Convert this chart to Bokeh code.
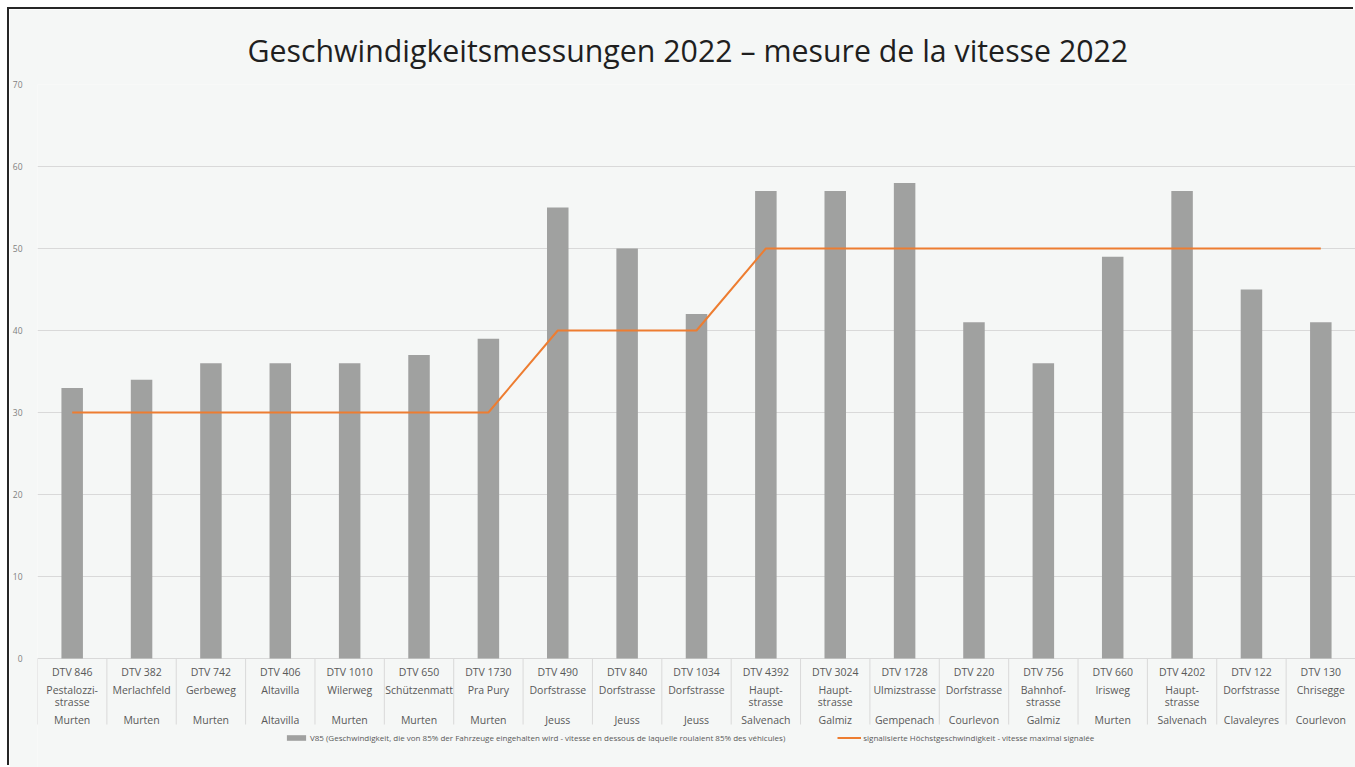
from bokeh.plotting import figure
from bokeh.models import FactorRange, Range1d, FixedTicker, Legend, LegendItem, ColumnDataSource
from bokeh.embed import file_html
from bokeh.resources import INLINE
from bokeh.core.properties import value

# ---------------- data ----------------
dtv_labels = ["DTV 846", "DTV 382", "DTV 742", "DTV 406", "DTV 1010", "DTV 650", "DTV 1730",
              "DTV 490", "DTV 840", "DTV 1034", "DTV 4392", "DTV 3024", "DTV 1728", "DTV 220",
              "DTV 756", "DTV 660", "DTV 4202", "DTV 122", "DTV 130"]
streets = ["Pestalozzi-\nstrasse", "Merlachfeld", "Gerbeweg", "Altavilla", "Wilerweg", "Schützenmatt",
           "Pra Pury", "Dorfstrasse", "Dorfstrasse", "Dorfstrasse", "Haupt-\nstrasse", "Haupt-\nstrasse",
           "Ulmizstrasse", "Dorfstrasse", "Bahnhof-\nstrasse", "Irisweg", "Haupt-\nstrasse",
           "Dorfstrasse", "Chrisegge"]
towns = ["Murten", "Murten", "Murten", "Altavilla", "Murten", "Murten", "Murten", "Jeuss", "Jeuss",
         "Jeuss", "Salvenach", "Galmiz", "Gempenach", "Courlevon", "Galmiz", "Murten", "Salvenach",
         "Clavaleyres", "Courlevon"]
v85 = [33, 34, 36, 36, 36, 37, 39, 55, 50, 42, 57, 57, 58, 41, 36, 49, 57, 45, 41]
speed_limit = [30, 30, 30, 30, 30, 30, 30, 40, 40, 40, 50, 50, 50, 50, 50, 50, 50, 50, 50]
y_ticks = [0, 10, 20, 30, 40, 50, 60, 70]

title_text = "Geschwindigkeitsmessungen 2022 \u2013 mesure de la vitesse 2022"
v85_label = ("V85 (Geschwindigkeit, die von 85% der Fahrzeuge eingehalten wird - "
             "vitesse en dessous de laquelle roulaient 85% des véhicules)")
limit_label = "signalisierte Höchstgeschwindigkeit - vitesse maximal signalée"

# ---------------- layout ----------------
W, H = 1346, 758
BORDER_L, BORDER_T = 25, 75
Y_MAX = 70
PX_PER_UNIT = 574 / 70.0
frame_h = H - BORDER_T
y_min = Y_MAX - frame_h / PX_PER_UNIT

def below(px):
    """data y value located px pixels below the zero line"""
    return -px / PX_PER_UNIT

BG = "#F5F7F6"
GRID = "#D9D9D9"
TXT = "#595959"
FONT = "Open Sans"

src = ColumnDataSource(dict(cat=dtv_labels, street=streets, town=towns, v85=v85, limit=speed_limit))

p = figure(width=W, height=H, output_backend="svg", toolbar_location=None,
           x_range=FactorRange(factors=dtv_labels, range_padding=0),
           y_range=Range1d(y_min, Y_MAX), x_axis_location=None,
           min_border_left=BORDER_L, min_border_top=BORDER_T,
           min_border_right=0, min_border_bottom=0,
           background_fill_color=BG, border_fill_color=BG, outline_line_color=None)
p.styles = {"margin-left": "9px", "margin-top": "9px",
            "box-shadow": "-2px -2px 0 0 #262626"}

p.title.text = title_text
p.title.align = "left"
p.title.offset = 210
p.title.text_font = FONT
p.title.text_font_size = "30.3px"
p.title.text_font_style = "normal"
p.title.text_color = "#1F1F1F"
p.title.standoff = 28

p.yaxis.ticker = FixedTicker(ticks=y_ticks)
p.yaxis.axis_line_color = None
p.yaxis.major_tick_line_color = None
p.yaxis.minor_tick_line_color = None
p.yaxis.major_label_text_font = FONT
p.yaxis.major_label_text_font_size = "8.5px"
p.yaxis.major_label_text_color = "#7F7F7F"
p.yaxis.major_label_standoff = 9
p.ygrid.ticker = FixedTicker(ticks=y_ticks)
p.ygrid.grid_line_color = GRID
p.xgrid.grid_line_color = None

bars = p.vbar(x="cat", top="v85", width=0.31, source=src, fill_color="#A0A1A0", line_color=None)
line = p.line(x="cat", y="limit", source=src, line_color="#ED7D31", line_width=2)

# category dividers below the axis
n = len(dtv_labels)
bounds = list(range(n + 1))
p.segment(x0=bounds, y0=[0] * (n + 1), x1=bounds, y1=[below(66)] * (n + 1),
          line_color=GRID, line_width=1)

p.text(x="cat", y=below(13), text="cat", source=src, text_align="center", text_baseline="middle",
       text_font=value(FONT), text_font_size="10.5px", text_color=TXT)
p.text(x="cat", y=below(24.5), text="street", source=src, text_align="center", text_baseline="top",
       text_font=value(FONT), text_font_size="10.5px", text_color=TXT, text_line_height=0.85)
p.text(x="cat", y=below(61), text="town", source=src, text_align="center", text_baseline="middle",
       text_font=value(FONT), text_font_size="10.5px", text_color=TXT)

legend = Legend(items=[LegendItem(label=v85_label, renderers=[bars]),
                       LegendItem(label=limit_label, renderers=[line])],
                orientation="horizontal", location=(247, 24),
                glyph_width=24, glyph_height=7, label_standoff=2, spacing=52,
                padding=0, margin=0, border_line_color=None, background_fill_alpha=0,
                label_text_font=FONT, label_text_font_size="8px", label_text_color=TXT,
                label_height=10)
p.add_layout(legend)

open("out.html", "w").write(file_html(p, INLINE))
